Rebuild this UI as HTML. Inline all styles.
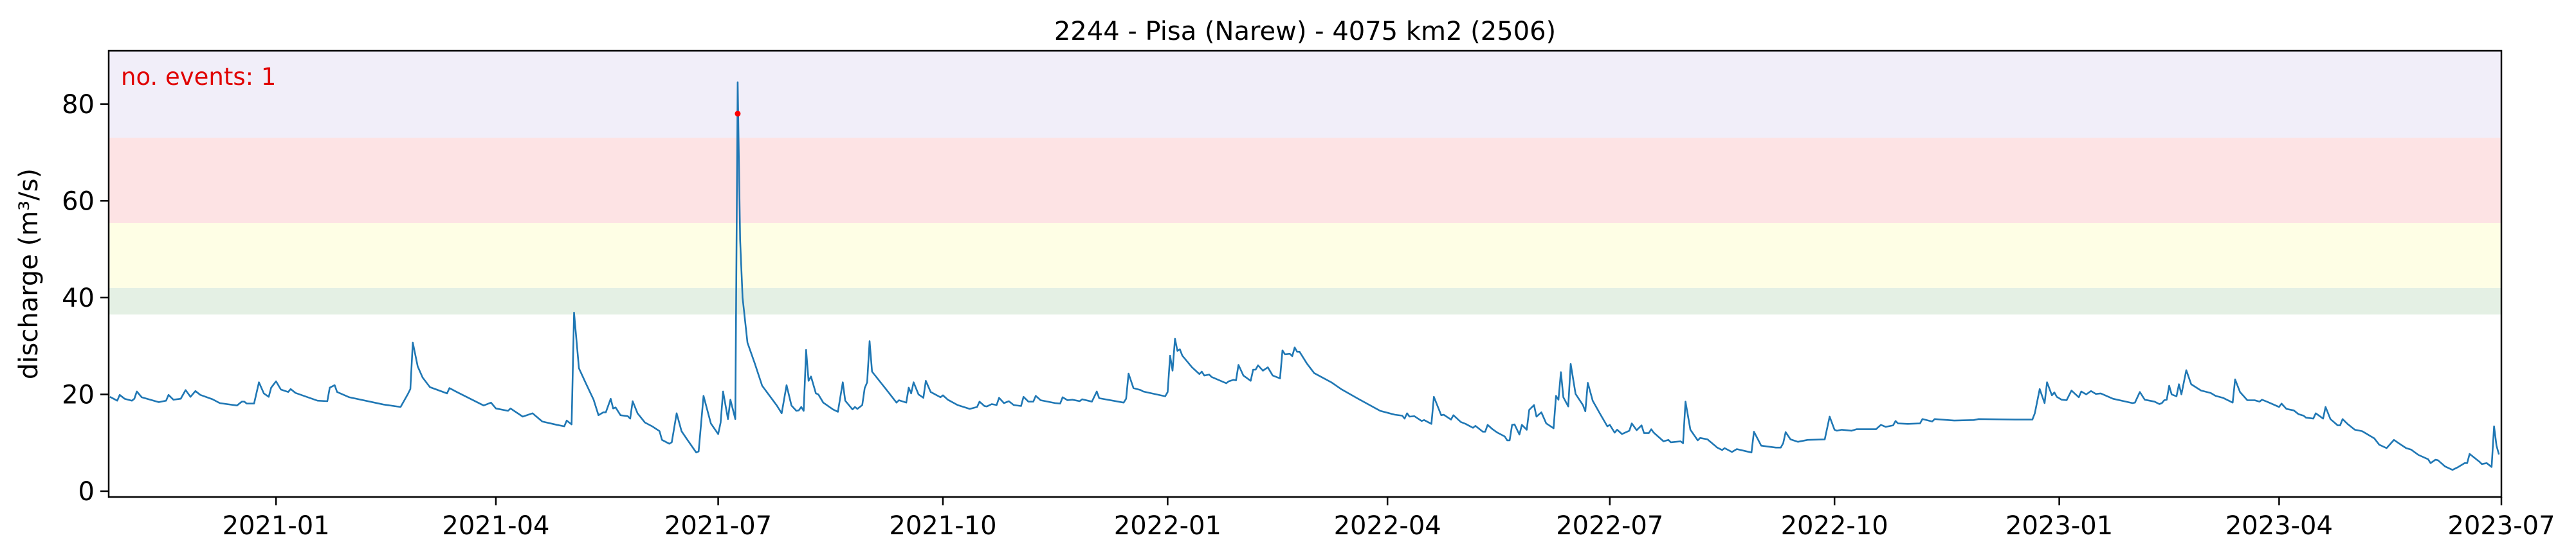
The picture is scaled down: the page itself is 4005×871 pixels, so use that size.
<!DOCTYPE html>
<html><head><meta charset="utf-8"><style>
html,body{margin:0;padding:0;background:#fff;}
svg{display:block;font-family:"DejaVu Sans","Liberation Sans",sans-serif;}
</style></head><body>
<svg id="chart" width="4005" height="871" viewBox="0 0 4005 871" xmlns="http://www.w3.org/2000/svg">
<rect width="4005" height="871" fill="#fff"/>
<g id="bands"></g>
<g id="series"></g>
<g id="axes"></g>
<text x="2029" y="62" font-size="40" text-anchor="middle">2244 - Pisa (Narew) - 4075 km2 (2506)</text>
<text x="188" y="132" font-size="37" fill="#e00000">no. events: 1</text>
<text transform="translate(58,426) rotate(-90)" font-size="40" text-anchor="middle">discharge (m³/s)</text>
</svg>
<script>
const dates = ["2020-10-25","2020-10-28","2020-10-29","2020-10-31","2020-11-03","2020-11-04","2020-11-05","2020-11-07","2020-11-14","2020-11-17","2020-11-18","2020-11-20","2020-11-23","2020-11-25","2020-11-27","2020-11-29","2020-12-01","2020-12-06","2020-12-09","2020-12-16","2020-12-18","2020-12-19","2020-12-20","2020-12-23","2020-12-24","2020-12-25","2020-12-27","2020-12-29","2020-12-30","2021-01-01","2021-01-03","2021-01-06","2021-01-07","2021-01-09","2021-01-18","2021-01-22","2021-01-23","2021-01-25","2021-01-26","2021-01-31","2021-02-14","2021-02-21","2021-02-24","2021-02-25","2021-02-26","2021-02-28","2021-03-02","2021-03-05","2021-03-12","2021-03-13",
"2021-03-16","2021-03-27","2021-03-30","2021-04-01","2021-04-06","2021-04-07","2021-04-12","2021-04-16","2021-04-20","2021-04-26","2021-04-29","2021-04-30","2021-05-02","2021-05-03","2021-05-05","2021-05-08","2021-05-11","2021-05-13","2021-05-15","2021-05-16","2021-05-18","2021-05-19","2021-05-20","2021-05-22","2021-05-25","2021-05-26","2021-05-27","2021-05-29","2021-06-01","2021-06-04","2021-06-07","2021-06-08","2021-06-11","2021-06-12","2021-06-14","2021-06-16","2021-06-18","2021-06-22","2021-06-23","2021-06-25","2021-06-28","2021-07-01","2021-07-02","2021-07-03","2021-07-05","2021-07-06","2021-07-08","2021-07-09","2021-07-10","2021-07-11","2021-07-13","2021-07-16","2021-07-19","2021-07-25","2021-07-27","2021-07-29","2021-07-31","2021-08-02",
"2021-08-03","2021-08-04","2021-08-05","2021-08-06","2021-08-07","2021-08-08","2021-08-10","2021-08-11","2021-08-13","2021-08-17","2021-08-19","2021-08-21","2021-08-22","2021-08-25","2021-08-26","2021-08-27","2021-08-29","2021-08-30","2021-08-31","2021-09-01","2021-09-02","2021-09-08","2021-09-12","2021-09-13","2021-09-16","2021-09-17","2021-09-18","2021-09-19","2021-09-21","2021-09-23","2021-09-24","2021-09-26","2021-09-30","2021-10-01","2021-10-03","2021-10-07","2021-10-12","2021-10-15","2021-10-16","2021-10-18","2021-10-19","2021-10-21","2021-10-23","2021-10-24","2021-10-26","2021-10-28","2021-10-30","2021-11-02","2021-11-03","2021-11-05","2021-11-07","2021-11-08","2021-11-10","2021-11-16","2021-11-18","2021-11-19","2021-11-21","2021-11-23","2021-11-26","2021-11-27","2021-12-01","2021-12-03","2021-12-04","2021-12-14","2021-12-15","2021-12-16","2021-12-18","2021-12-21",
"2021-12-22","2021-12-31","2022-01-01","2022-01-02","2022-01-03","2022-01-04","2022-01-05","2022-01-06","2022-01-07","2022-01-11","2022-01-14","2022-01-15","2022-01-16","2022-01-18","2022-01-19","2022-01-25","2022-01-26","2022-01-28","2022-01-29","2022-01-30","2022-02-01","2022-02-04","2022-02-05","2022-02-06","2022-02-07","2022-02-09","2022-02-11","2022-02-13","2022-02-16","2022-02-17","2022-02-18","2022-02-20","2022-02-21","2022-02-22","2022-02-23","2022-02-24","2022-02-27","2022-03-02","2022-03-09","2022-03-13","2022-03-20","2022-03-29","2022-04-04","2022-04-07","2022-04-08","2022-04-09","2022-04-10","2022-04-12","2022-04-15","2022-04-16","2022-04-19","2022-04-20","2022-04-23","2022-04-24","2022-04-27","2022-04-28","2022-05-01","2022-05-03","2022-05-06","2022-05-07","2022-05-10",
"2022-05-11","2022-05-12","2022-05-14","2022-05-16","2022-05-19","2022-05-20","2022-05-21","2022-05-22","2022-05-23","2022-05-25","2022-05-26","2022-05-28","2022-05-29","2022-05-31","2022-06-01","2022-06-03","2022-06-05","2022-06-08","2022-06-09","2022-06-10","2022-06-11","2022-06-12","2022-06-14","2022-06-15","2022-06-17","2022-06-20","2022-06-21","2022-06-22","2022-06-24","2022-06-27","2022-06-30","2022-07-01","2022-07-03","2022-07-04","2022-07-06","2022-07-09","2022-07-10","2022-07-12","2022-07-14","2022-07-15","2022-07-17","2022-07-18","2022-07-19","2022-07-23","2022-07-25","2022-07-26","2022-07-30","2022-07-31","2022-08-01","2022-08-03","2022-08-06","2022-08-07","2022-08-10","2022-08-14","2022-08-16","2022-08-17","2022-08-20","2022-08-22","2022-08-28","2022-08-29","2022-09-01","2022-09-07","2022-09-09","2022-09-10","2022-09-11","2022-09-13","2022-09-16","2022-09-20","2022-09-27","2022-09-29",
"2022-10-01","2022-10-02","2022-10-04","2022-10-08","2022-10-10","2022-10-18","2022-10-20","2022-10-22","2022-10-25","2022-10-26","2022-10-27","2022-10-31","2022-11-05","2022-11-06","2022-11-10","2022-11-11","2022-11-19","2022-11-27","2022-11-29","2022-12-14","2022-12-21","2022-12-22","2022-12-24","2022-12-26","2022-12-27","2022-12-29","2022-12-30","2022-12-31","2023-01-02","2023-01-04","2023-01-06","2023-01-09","2023-01-10","2023-01-12","2023-01-14","2023-01-16","2023-01-18","2023-01-23","2023-01-31","2023-02-01","2023-02-03","2023-02-05","2023-02-09","2023-02-11","2023-02-12","2023-02-13","2023-02-14","2023-02-15","2023-02-16",
"2023-02-18","2023-02-19","2023-02-20","2023-02-22","2023-02-24","2023-02-28","2023-03-04","2023-03-06","2023-03-09","2023-03-13","2023-03-14","2023-03-16","2023-03-19","2023-03-22","2023-03-24","2023-03-25","2023-03-27","2023-04-01","2023-04-02","2023-04-04","2023-04-07","2023-04-09","2023-04-11","2023-04-12","2023-04-15","2023-04-16","2023-04-19","2023-04-20","2023-04-22","2023-04-25","2023-04-26","2023-04-27","2023-04-29","2023-05-02","2023-05-05","2023-05-10","2023-05-12","2023-05-15","2023-05-18","2023-05-20","2023-05-23","2023-05-25","2023-05-28","2023-06-01","2023-06-02","2023-06-04","2023-06-05","2023-06-08","2023-06-11","2023-06-13","2023-06-16","2023-06-17","2023-06-18","2023-06-22","2023-06-23","2023-06-25","2023-06-27","2023-06-28","2023-06-29","2023-06-30"];
const discharge = [19.5,18.7,19.9,19.1,18.7,19.1,20.6,19.4,18.4,18.7,19.9,18.9,19.1,20.9,19.5,20.7,19.9,19.0,18.2,17.7,18.5,18.5,18.1,18.1,20.3,22.5,20.2,19.5,21.4,22.7,21.0,20.5,21.1,20.3,18.7,18.6,21.4,21.9,20.5,19.4,17.9,17.4,20.1,21.1,30.7,25.8,23.5,21.5,20.2,21.3,
20.5,17.7,18.3,17.1,16.6,17.1,15.4,16.1,14.4,13.7,13.4,14.6,13.8,36.9,25.4,22.1,18.9,15.7,16.3,16.3,19.1,17.1,17.3,15.7,15.5,15.0,18.6,16.1,14.2,13.4,12.4,10.6,9.8,10.1,16.1,12.4,10.9,8.0,8.2,19.7,14.0,11.8,14.2,20.6,14.9,18.9,14.9,84.5,52.0,40.0,30.7,26.4,21.8,17.7,16.1,21.9,17.7,16.6,
16.7,17.4,16.6,29.2,22.8,23.7,20.2,20.0,18.3,16.9,16.4,22.5,18.7,16.9,17.4,17.0,17.8,21.3,22.5,31.0,24.7,20.9,18.3,18.8,18.3,21.4,20.2,22.5,20.0,19.3,22.8,20.5,19.4,19.8,18.9,17.8,17.0,17.4,18.5,17.6,17.5,18.0,17.8,19.3,18.2,18.6,17.8,17.6,19.5,18.5,18.5,19.7,18.8,18.2,18.1,19.4,18.8,18.9,18.6,19.0,18.5,20.6,19.2,18.3,19.1,24.3,21.3,20.9,
20.6,19.6,20.5,28.0,24.9,31.5,29.0,29.3,28.0,25.6,24.2,24.7,23.9,24.1,23.6,22.3,22.7,23.0,22.9,26.1,23.9,22.8,25.1,25.1,26.0,24.9,25.6,23.9,23.3,29.1,28.3,28.4,27.9,29.7,28.8,28.8,26.4,24.4,22.5,21.1,19.1,16.6,15.8,15.6,15.0,16.1,15.4,15.5,14.5,14.7,13.9,19.5,15.7,15.8,14.8,15.7,14.3,13.9,13.1,13.5,12.3,
12.3,13.7,12.8,12.1,11.3,10.5,10.5,13.7,13.8,11.7,13.7,12.7,16.8,17.8,15.4,16.3,14.0,13.0,19.7,18.9,24.6,19.4,17.5,26.3,20.1,17.8,16.5,22.4,18.7,16.0,13.4,13.7,12.1,12.7,11.8,12.5,14.0,12.6,13.6,12.0,12.0,12.8,12.1,10.3,10.6,10.1,10.3,9.9,18.5,12.7,10.5,11.0,10.7,9.0,8.5,8.9,8.1,8.7,8.0,12.3,9.4,9.0,9.0,9.9,12.2,10.7,10.2,10.6,10.7,15.4,
12.7,12.5,12.7,12.5,12.8,12.8,13.7,13.3,13.6,14.5,14.0,13.9,14.0,14.9,14.4,14.9,14.6,14.7,14.9,14.8,14.8,16.1,21.1,18.2,22.5,19.8,20.4,19.5,18.9,18.8,20.8,19.4,20.6,20.0,20.7,20.1,20.2,19.1,18.2,18.3,20.5,18.9,18.5,18.0,18.2,18.8,18.9,21.8,20.0,
19.6,22.1,20.0,25.0,22.1,20.8,20.3,19.7,19.3,18.3,23.1,20.5,18.8,18.8,18.5,18.9,18.5,17.4,18.1,17.0,16.7,15.9,15.6,15.2,15.0,16.1,15.0,17.4,14.9,13.6,13.6,14.9,13.9,12.7,12.4,10.9,9.6,8.9,10.6,9.9,8.9,8.6,7.5,6.6,5.8,6.5,6.4,5.1,4.4,4.9,5.8,5.8,7.7,6.1,5.6,5.8,5.0,13.4,9.4,7.6];
const eventDates = ["2021-07-09"];
const eventValues = [78];
const bandLower = [36.5, 42, 55.4, 73];
const bandUpper = [42, 55.4, 73, 91];
const bandColors = ["#e4f0e4", "#fefee5", "#fde3e4", "#f1eef9"];
const yTicks = [0, 20, 40, 60, 80];
const xTicks = ["2021-01-01","2021-04-01","2021-07-01","2021-10-01","2022-01-01","2022-04-01","2022-07-01","2022-10-01","2023-01-01","2023-04-01","2023-07-01"];
const xTickLabels = ["2021-01","2021-04","2021-07","2021-10","2022-01","2022-04","2022-07","2022-10","2023-01","2023-04","2023-07"];

const NS = "http://www.w3.org/2000/svg";
const L = 169, R = 3889, T = 79, B = 773;
const dayMs = 86400000;
const t0 = Date.parse("2021-01-01T00:00:00Z");
const xStart = -68.5, xEnd = 911;
function day(s){ return (Date.parse(s + "T00:00:00Z") - t0) / dayMs; }
function xs(s){ return L + (day(s) - xStart) / (xEnd - xStart) * (R - L); }
const yMin = -1.2, yMax = 91;
function ys(v){ return B - (v - yMin) / (yMax - yMin) * (B - T); }
function mk(tag, attrs, parent){ const e = document.createElementNS(NS, tag); for (const k in attrs) e.setAttribute(k, attrs[k]); parent.appendChild(e); return e; }

const bandsG = document.getElementById("bands");
for (let i = 0; i < bandLower.length; i++) {
  const r = mk("rect", {x: L, y: ys(Math.min(bandUpper[i], yMax)), width: R - L, height: ys(bandLower[i]) - ys(Math.min(bandUpper[i], yMax)), fill: bandColors[i]}, bandsG);
  
  
}

const sG = document.getElementById("series");
let d = "";
for (let i = 0; i < dates.length; i++) d += (i ? "L" : "M") + xs(dates[i]).toFixed(1) + "," + ys(discharge[i]).toFixed(1);
const line = mk("path", {d: d, fill: "none", stroke: "#1f77b4", "stroke-width": 2.6, "stroke-linejoin": "round"}, sG);


for (let i = 0; i < eventDates.length; i++) {
  const c = mk("circle", {cx: xs(eventDates[i]), cy: ys(eventValues[i]), r: 4.5, fill: "#ff0000"}, sG);
  
  
}

const aG = document.getElementById("axes");
const frame = mk("rect", {x: L, y: T, width: R - L, height: B - T, fill: "none", stroke: "#000", "stroke-width": 2.5}, aG);


for (const v of yTicks) {
  const y = ys(v);
  const tk = mk("line", {x1: L - 13, x2: L, y1: y, y2: y, stroke: "#000", "stroke-width": 2.5}, aG);
  
  
  const tx = mk("text", {x: L - 22, y: y + 14, "font-size": 40, "text-anchor": "end"}, aG);
  tx.textContent = String(v);
  
  
}
for (let i = 0; i < xTicks.length; i++) {
  const x = xs(xTicks[i]);
  const tk = mk("line", {x1: x, x2: x, y1: B, y2: B + 13, stroke: "#000", "stroke-width": 2.5}, aG);
  
  
  const tx = mk("text", {x: x, y: B + 58, "font-size": 40, "text-anchor": "middle"}, aG);
  tx.textContent = xTickLabels[i];
  
  
}
</script>
</body></html>
